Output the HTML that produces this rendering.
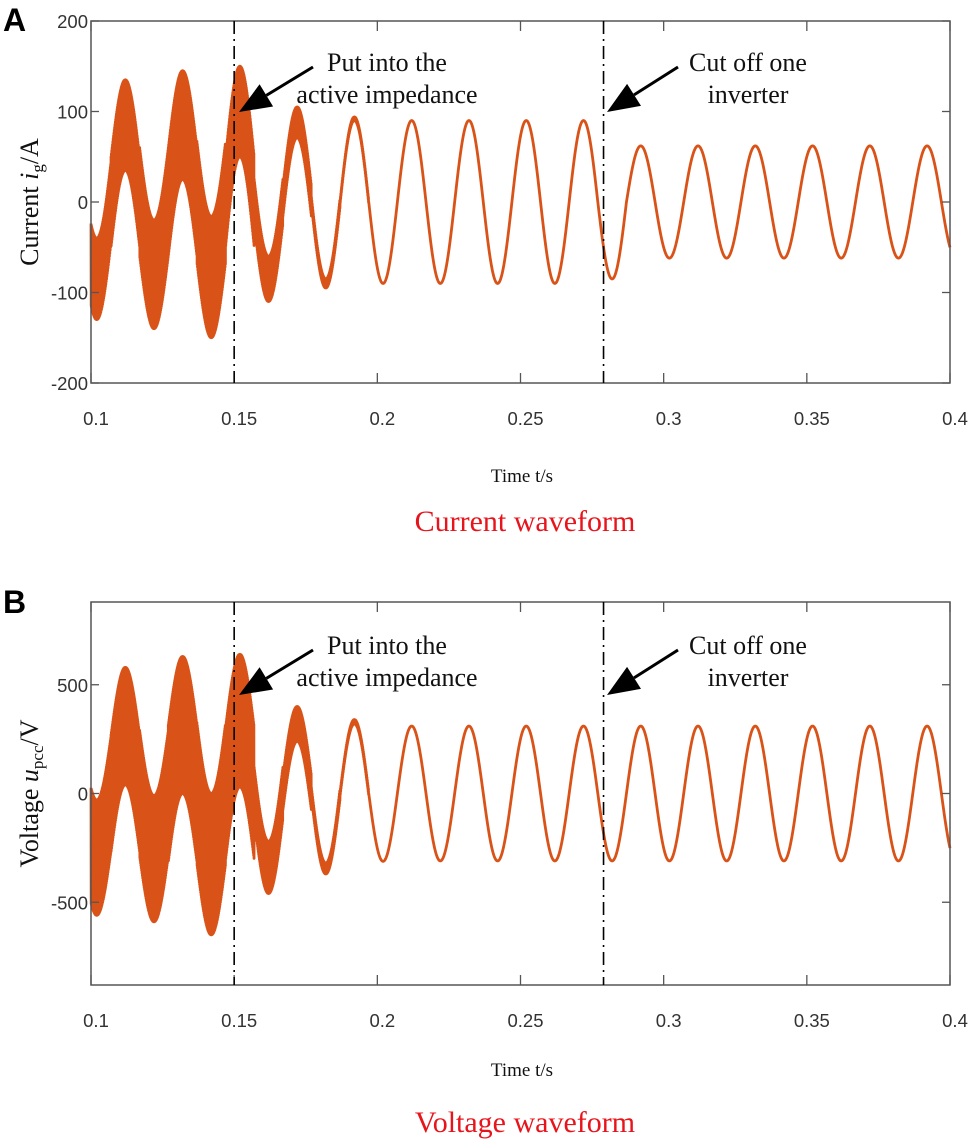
<!DOCTYPE html>
<html><head><meta charset="utf-8">
<style>
html,body{margin:0;padding:0;background:#fff;}
svg{display:block;}
.tick{font-family:"Liberation Sans",Arial,sans-serif;font-size:18.5px;fill:#333;}
.serif{font-family:"Liberation Serif","Times New Roman",serif;fill:#111;}
</style></head>
<body>
<svg id="fig" width="972" height="1145" viewBox="0 0 972 1145" xmlns="http://www.w3.org/2000/svg">
  <g id="panelA"></g>
  <g id="panelB"></g>
</svg>
<script>
// ---- data ----
const xTicks = [0.1, 0.15, 0.2, 0.25, 0.3, 0.35, 0.4];
const xTickLabels = ["0.1", "0.15", "0.2", "0.25", "0.3", "0.35", "0.4"];
const currentTicks = [200, 100, 0, -100, -200];
const voltageTicks = [500, 0, -500];
const eventTimes = [0.15, 0.279];
// half-cycle extreme centres starting at t=0.102, step 0.01 s
const halfCycleStart = 0.102;
const currentFund = [85, 85, 80, 85, 83, 100, 85, 88, 90, 92, 90, 90, 90, 90, 90, 90, 90, 90, 85, 62, 62, 62, 62, 62, 62, 62, 62, 62, 62, 62, 62];
const currentHF   = [45, 50, 60, 60, 67, 50, 25, 17, 5, 2, 0, 0, 0, 0, 0, 0, 0, 0, 0, 0, 0, 0, 0, 0, 0, 0, 0, 0, 0, 0, 0];
const voltageFund = [295, 310, 300, 315, 325, 335, 340, 320, 345, 330, 312, 310, 310, 310, 310, 310, 310, 310, 310, 310, 310, 310, 310, 310, 310, 310, 310, 310, 310, 310, 310];
const voltageHF   = [265, 270, 290, 315, 325, 305, 120, 80, 25, 10, 0, 0, 0, 0, 0, 0, 0, 0, 0, 0, 0, 0, 0, 0, 0, 0, 0, 0, 0, 0, 0];

const NS = "http://www.w3.org/2000/svg";
function mk(parent, tag, attrs){ const e=document.createElementNS(NS,tag); for(const k in attrs) e.setAttribute(k,attrs[k]); parent.appendChild(e); return e; }

const X0=91, X1=950;
const xs = t => X0 + (t-0.1)/(0.3)*(X1-X0);

function panel(g, cfg){
  const {top,bottom,ys,yticks,fund,hf,ylabel,ylabelSub,ylabelEnd,caption,captionY,timeY,letter,letterY,annOff} = cfg;
  let pts=[];
  const f0=50, N=4800;
  for(let n=0; n<=N; n++){
    const t=0.1+0.3*n/N;
    let k=Math.floor((t-(halfCycleStart-0.005))/0.01); k=Math.max(0,Math.min(fund.length-1,k));
    const v = fund[k]*Math.sin(2*Math.PI*f0*(t-0.107)) + hf[k]*(n%2===0?1:-1);
    pts.push(xs(t).toFixed(2)+","+ys(v).toFixed(2));
  }
  const tr=mk(g,"polyline",{points:pts.join(" "),fill:"none",stroke:"#D95319","stroke-width":"2.8","stroke-linejoin":"round"});
  
  
  const box=mk(g,"rect",{x:X0,y:top,width:X1-X0,height:bottom-top,fill:"none",stroke:"#555","stroke-width":"1.5"});
  
  
  xTicks.forEach((v,i)=>{
    const x=xs(v);
    mk(g,"line",{x1:x,x2:x,y1:bottom,y2:bottom-10,stroke:"#555","stroke-width":"1.3"});
    mk(g,"line",{x1:x,x2:x,y1:top,y2:top+10,stroke:"#555","stroke-width":"1.3"});
    const tx=mk(g,"text",{x:x+5,y:bottom+42,"text-anchor":"middle",class:"tick"});
    tx.textContent=xTickLabels[i];
    
    
  });
  yticks.forEach(v=>{
    const y=ys(v);
    mk(g,"line",{x1:X0,x2:X0+8,y1:y,y2:y,stroke:"#555","stroke-width":"1.3"});
    mk(g,"line",{x1:X1,x2:X1-8,y1:y,y2:y,stroke:"#555","stroke-width":"1.3"});
    const tx=mk(g,"text",{x:X0-3,y:y+7,"text-anchor":"end",class:"tick"});
    tx.textContent=String(v);
    
    
  });
  eventTimes.forEach(t=>{
    const l=mk(g,"line",{x1:xs(t),x2:xs(t),y1:top,y2:bottom,stroke:"#000","stroke-width":"1.6","stroke-dasharray":"13 5 2 5"});
    
    
  });
  const o=annOff;
  const ann=(lines,arrow,name)=>{
    const ag=mk(g,"g",{});
    
    
    lines.forEach(L=>{ const t=mk(ag,"text",{x:L[0],y:L[1]+o,"text-anchor":"middle",class:"serif","font-size":"26"}); t.textContent=L[2]; });
    const [sx,sy,ex,ey]=[arrow[0],arrow[1]+o,arrow[2],arrow[3]+o];
    const ang=Math.atan2(ey-sy,ex-sx), hl=32, hw=13;
    const bx=ex-hl*Math.cos(ang), by=ey-hl*Math.sin(ang);
    mk(ag,"line",{x1:sx,y1:sy,x2:bx,y2:by,stroke:"#000","stroke-width":"3"});
    const px=-Math.sin(ang)*hw, py=Math.cos(ang)*hw;
    mk(ag,"polygon",{points:`${ex},${ey} ${bx+px},${by+py} ${bx-px},${by-py}`,fill:"#000"});
  };
  ann([[387,71,"Put into the"],[387,103,"active impedance"]],[313,67,239,112],"annotation-active-impedance");
  ann([[748,71,"Cut off one"],[748,103,"inverter"]],[678,67,607,112],"annotation-cut-inverter");
  const yl=mk(g,"text",{transform:`translate(38,${(top+bottom)/2}) rotate(-90)`,"text-anchor":"middle",class:"serif","font-size":"26"});
  
  
  yl.innerHTML=ylabel+`<tspan font-size="17" dy="5">${ylabelSub}</tspan><tspan dy="-5">${ylabelEnd}</tspan>`;
  const xl=mk(g,"text",{x:522,y:timeY,"text-anchor":"middle",class:"serif","font-size":"19"});
  xl.textContent="Time t/s";
  
  
  const cp=mk(g,"text",{x:525,y:captionY,"text-anchor":"middle",class:"serif","font-size":"30",style:"fill:#e8141c"});
  cp.textContent=caption;
  
  
  const lt=mk(g,"text",{x:3,y:letterY,"font-family":"Liberation Sans,Arial,sans-serif","font-weight":"bold","font-size":"32",fill:"#000"});
  lt.textContent=letter;
  
  
}

panel(document.getElementById("panelA"),{
  top:21,bottom:383,ys:v=>202-v*0.905,yticks:currentTicks,fund:currentFund,hf:currentHF,
  ylabel:'Current <tspan font-style="italic">i</tspan>',ylabelSub:"g",ylabelEnd:"/A",
  caption:"Current waveform",captionY:531,timeY:482,letter:"A",letterY:31,annOff:0});
panel(document.getElementById("panelB"),{
  top:602,bottom:985,ys:v=>793.5-v*0.2175,yticks:voltageTicks,fund:voltageFund,hf:voltageHF,
  ylabel:'Voltage <tspan font-style="italic">u</tspan>',ylabelSub:"pcc",ylabelEnd:"/V",
  caption:"Voltage waveform",captionY:1132,timeY:1076,letter:"B",letterY:613,annOff:583});
</script>
</body></html>
